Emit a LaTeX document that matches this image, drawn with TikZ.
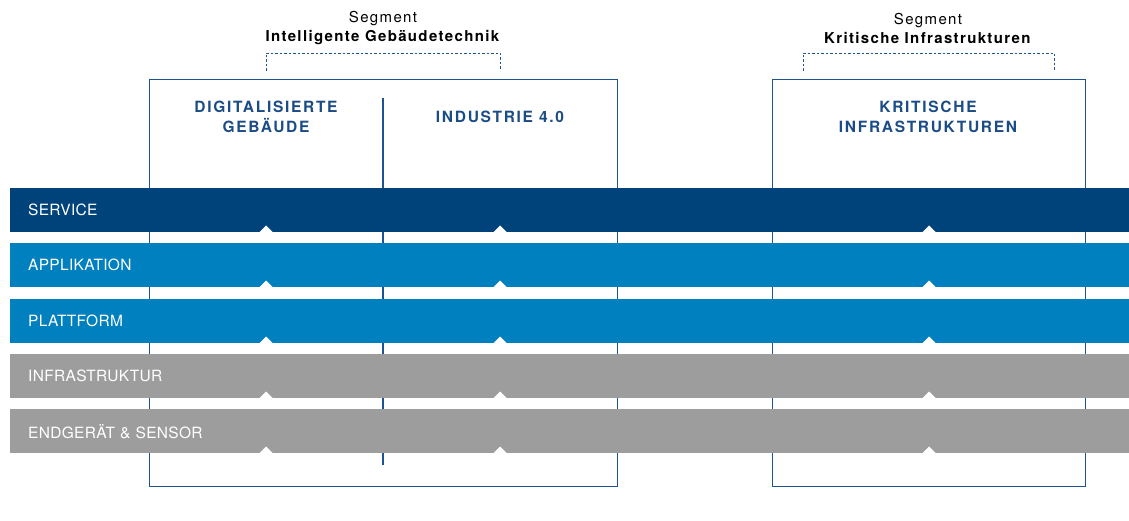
\documentclass[tikz,border=0pt]{standalone}
\usepackage{fontspec}
\setmainfont{TeX Gyre Heros}
\usetikzlibrary{positioning}
\definecolor{serviceblue}{HTML}{00427A}
\definecolor{layerblue}{HTML}{0080BF}
\definecolor{layergrey}{HTML}{9D9D9D}
\definecolor{frameblue}{HTML}{1F5390}
\definecolor{titleblue}{HTML}{1B4C85}
\tikzstyle{layer}=[anchor=north west, draw=none, minimum width=1119pt, minimum height=44pt, inner xsep=18pt, text width=1083pt, align=left, text=white, font=\fontsize{15.5}{18}\selectfont\addfontfeatures{LetterSpace=2}]
\tikzstyle{segbox}=[draw=frameblue, line width=1.3pt, fill=none]
\tikzstyle{divider}=[draw=frameblue, line width=1.3pt]
\tikzstyle{bracket}=[draw=frameblue, line width=0.9pt, dash pattern=on 2.5pt off 2pt]
\tikzstyle{title}=[align=center, text=titleblue, font=\fontsize{15.5}{20}\selectfont\bfseries\addfontfeatures{LetterSpace=11}]
\tikzstyle{segment}=[align=center, font=\fontsize{15}{19}\selectfont\addfontfeatures{LetterSpace=9}]
\tikzstyle{notch}=[fill=white, draw=none]
\begin{document}
\begin{tikzpicture}[x=1pt, y=-1pt]
		\useasboundingbox (0,0) rectangle (1129,521);
		% Segment frames and column divider
		\node[segbox, anchor=north west, minimum width=468pt, minimum height=407pt] (left) at (149,79) {};
		\node[segbox, anchor=north west, minimum width=313pt, minimum height=407pt] (right) at (772,79) {};
		\coordinate (divtop) at (383,98);
		\coordinate (divbot) at (383,465);
		\path[divider] (divtop) -- (divbot);
		
		% Column titles
		\node[title] (digital) at (266,117) {DIGITALISIERTE\\GEBÄUDE};
		\node[title] (industrie) at (500,117) {INDUSTRIE 4.0};
		\node[title] (kritis) at (928,117) {KRITISCHE\\INFRASTRUKTUREN};
		
		% Segment labels with dashed brackets
		\node[segment] (segleft) at (383,28.5) {Segment\\\textbf{Intelligente Gebäudetechnik}};
		\node[segment] (segright) at (928,28.5) {Segment\\\textbf{Kritische Infrastrukturen}};
		\foreach \name/\xa/\xb in {bl/266/500, br/803/1054} {
			\coordinate (\name a) at (\xa,71);
			\coordinate (\name b) at (\xa,53);
			\coordinate (\name c) at (\xb,53);
			\coordinate (\name d) at (\xb,71);
			\path[bracket] (\name a) -- (\name b) -- (\name c) -- (\name d);
		}
		
		% Layers across all segments
		\foreach \ypos/\label/\name/\col in {
			188/service/SERVICE/serviceblue, 243/appl/APPLIKATION/layerblue,
			299/platt/PLATTFORM/layerblue, 354/infra/INFRASTRUKTUR/layergrey,
			409/endg/ENDGERÄT \& SENSOR/layergrey}
		{
			\node[layer, fill=\col] (\label) at (10,\ypos) {\name};
			\foreach \xpos in {266,500,929}
			\fill[notch] (\xpos-7,\ypos+44.5) -- (\xpos,\ypos+37.5) -- (\xpos+7,\ypos+44.5) -- cycle;
		}
		\end{tikzpicture}
\end{document}
